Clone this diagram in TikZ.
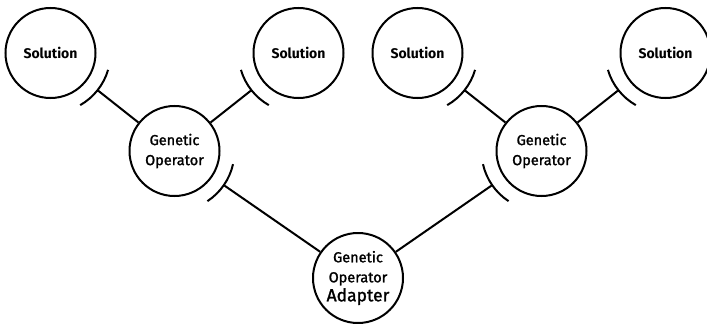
\documentclass[tikz,border=0pt]{standalone}
\usepackage{fontspec}
\setmainfont{Fira Sans}
\newfontfamily\heavyfont{Fira Sans}[FakeBold=1.5]
\usetikzlibrary{calc}
\tikzset{
  bubble/.style={circle, draw, line width=2pt, minimum size=90pt, inner sep=0pt, align=center, font=\heavyfont\fontsize{14.5}{20}\selectfont},
  solution/.style={bubble, font=\fontsize{14}{16}\selectfont\bfseries},
  socket edge/.style={line width=2pt, edge from parent path={
      let \p1=($(\tikzparentnode)-(\tikzchildnode)$), \n1={atan2(\y1,\x1)} in
      (\tikzparentnode) -- ($(\tikzchildnode)+(\n1:60pt)$)
      ($(\tikzchildnode)+(\n1-22:60pt)$) arc[start angle=\n1-22, end angle=\n1+22, radius=60pt]}}
}
\begin{document}
\begin{tikzpicture}[x=1pt, y=1pt, grow=up,
    level 1/.style={level distance=127pt, sibling distance=367pt},
    level 2/.style={level distance=98pt, sibling distance=248pt},
    edge from parent/.style={draw, socket edge}]
  \useasboundingbox (0,-324) rectangle (707,0);
  \node[bubble] (adapter) at (358,-278) {Genetic\\Operator\\[-1pt]{\fontsize{17.5}{20}\selectfont Adapter}}
    child {
        node[bubble] (opright) {Genetic\\Operator}
        child { node[solution] (solrr) {Solution} }
        child { node[solution] (solrl) {Solution} }
      }
    child {
        node[bubble] (opleft) {Genetic\\Operator}
        child { node[solution] (sollr) {Solution} }
        child { node[solution] (solll) {Solution} }
      };
\end{tikzpicture}
\end{document}
